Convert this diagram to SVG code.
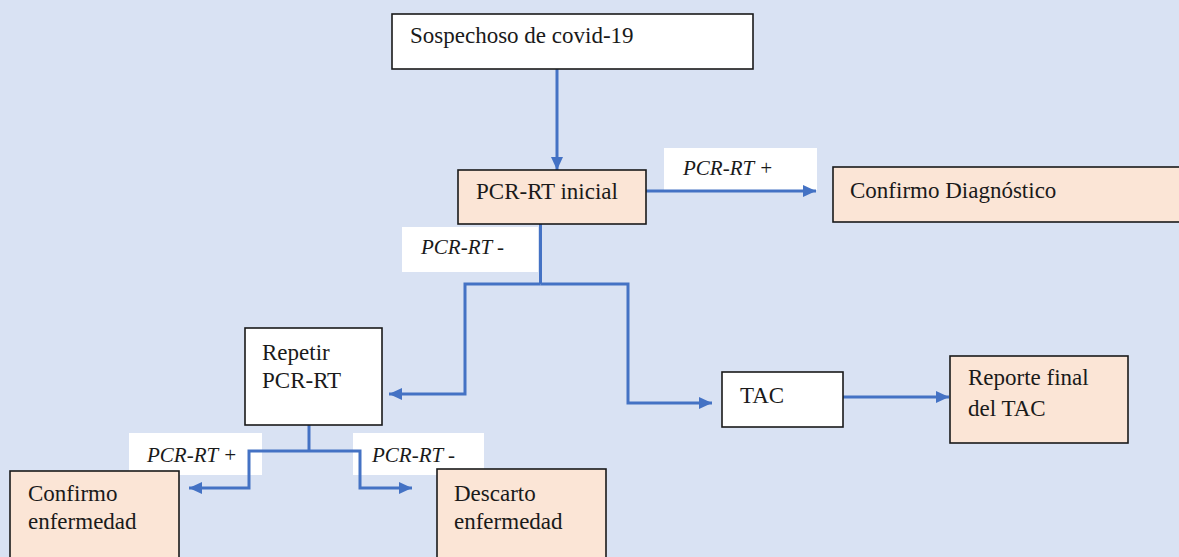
<svg xmlns="http://www.w3.org/2000/svg" width="1179" height="557" viewBox="0 0 1179 557">
<style>
.bg{fill:#D9E2F3}
.box{stroke:#1a1a1a;stroke-width:1.6}
.w{fill:#ffffff}
.p{fill:#FBE5D6}
.lbl{fill:#ffffff}
.t{font-family:'Liberation Serif','DejaVu Serif',serif;font-size:23px;fill:#1a1a1a}
.it{font-family:'Liberation Serif','DejaVu Serif',serif;font-size:21px;font-style:italic;fill:#1a1a1a}
.c{fill:none;stroke:#4472C4;stroke-width:3}
</style>
<defs>
<marker id="ah" markerUnits="userSpaceOnUse" markerWidth="14" markerHeight="14" viewBox="0 0 14 14" refX="13" refY="7" orient="auto">
<path d="M0,1 L13,7 L0,13 Z" fill="#4472C4"/>
</marker>
</defs>
<rect class="bg" x="0" y="0" width="1179" height="557"/>
<g id="labels">
<rect class="lbl" x="664" y="148" width="153" height="42"/>
<text class="it" x="683" y="175">PCR-RT +</text>
<rect class="lbl" x="402" y="227" width="136" height="45"/>
<text class="it" x="421" y="254">PCR-RT -</text>
<rect class="lbl" x="129" y="433" width="133" height="42"/>
<text class="it" x="147" y="462">PCR-RT +</text>
<rect class="lbl" x="353" y="433" width="131" height="42"/>
<text class="it" x="372" y="462">PCR-RT -</text>
</g>
<g id="connectors">
<path class="c" d="M557,69 L557,170" marker-end="url(#ah)"/>
<path class="c" d="M646,191 L816,191" marker-end="url(#ah)"/>
<path class="c" d="M540.5,224 L540.5,284"/>
<path class="c" d="M540.5,284 L465,284 L465,394 L389,394" marker-end="url(#ah)"/>
<path class="c" d="M540.5,284 L628,284 L628,403 L712,403" marker-end="url(#ah)"/>
<path class="c" d="M843,397 L949,397" marker-end="url(#ah)"/>
<path class="c" d="M309,425 L309,451"/>
<path class="c" d="M309,451 L249,451 L249,488 L189,488" marker-end="url(#ah)"/>
<path class="c" d="M309,451 L360,451 L360,488 L412,488" marker-end="url(#ah)"/>
</g>
<g id="n-sospechoso">
<rect class="box w" x="392" y="14" width="361" height="55"/>
<text class="t" x="410" y="43">Sospechoso de covid-19</text>
</g>
<g id="n-pcr-inicial">
<rect class="box p" x="458" y="170" width="188" height="54"/>
<text class="t" x="476" y="199">PCR-RT inicial</text>
</g>
<g id="n-confirmo-diag">
<rect class="box p" x="833" y="167" width="360" height="55"/>
<text class="t" x="850" y="198">Confirmo Diagnóstico</text>
</g>
<g id="n-repetir">
<rect class="box w" x="245" y="328" width="137" height="97"/>
<text class="t" x="262" y="360">Repetir</text>
<text class="t" x="262" y="388">PCR-RT</text>
</g>
<g id="n-tac">
<rect class="box w" x="722" y="372" width="121" height="55"/>
<text class="t" x="740" y="403">TAC</text>
</g>
<g id="n-reporte">
<rect class="box p" x="950" y="356" width="178" height="87"/>
<text class="t" x="968" y="385">Reporte final</text>
<text class="t" x="968" y="416">del TAC</text>
</g>
<g id="n-confirmo-enf">
<rect class="box p" x="10" y="471" width="169" height="100"/>
<text class="t" x="28" y="501">Confirmo</text>
<text class="t" x="28" y="529">enfermedad</text>
</g>
<g id="n-descarto">
<rect class="box p" x="437" y="469" width="169" height="100"/>
<text class="t" x="454" y="501">Descarto</text>
<text class="t" x="454" y="529">enfermedad</text>
</g>
</svg>
